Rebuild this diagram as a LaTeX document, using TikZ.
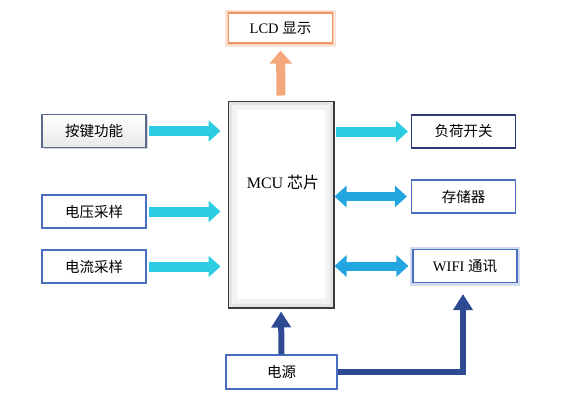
\documentclass[tikz,border=0pt]{standalone}
\usepackage{fontspec}
\setmainfont{Liberation Serif}
\newfontfamily\cjk{Noto Sans CJK SC}
\usetikzlibrary{positioning,arrows.meta,shadows}

\definecolor{boxblue}{RGB}{74,111,194}
\definecolor{loadnavy}{RGB}{46,58,120}
\definecolor{keygray}{RGB}{90,105,140}
\definecolor{mcugray}{RGB}{60,60,60}
\definecolor{lcdorange}{RGB}{240,150,100}
\definecolor{arrcyan}{RGB}{44,204,226}
\definecolor{arrblue}{RGB}{35,165,223}
\definecolor{arrorange}{RGB}{243,167,122}
\definecolor{pwrblue}{RGB}{46,74,147}

\begin{document}
\begin{tikzpicture}[x=1pt, y=-1pt,
  box/.style={draw=boxblue, line width=1.2pt, fill=white, minimum width=104pt,
    minimum height=33pt, inner sep=0pt, font=\fontsize{14.5}{17}\selectfont},
  keybox/.style={box, draw=keygray, top color=white, bottom color=gray!18,
    drop shadow={opacity=0.35, shadow xshift=1.5pt, shadow yshift=-1.5pt}},
  loadbox/.style={box, draw=loadnavy},
  lcdbox/.style={box, draw=lcdorange, minimum height=30pt,
    preaction={draw=lcdorange!25, line width=7pt},
    preaction={draw=lcdorange!45, line width=3.5pt}},
  wifibox/.style={box, preaction={draw=boxblue!25, line width=6pt}},
  mcubox/.style={draw=mcugray, line width=3pt, fill=white, minimum width=104pt,
    minimum height=205pt, inner sep=0pt},
  fat/.style={line width=10pt, arrcyan, -{Triangle[width=21pt,length=12pt]}},
  fatboth/.style={line width=9pt, arrblue,
    {Triangle[width=21pt,length=12pt]}-{Triangle[width=21pt,length=12pt]}},
  fatup/.style={line width=9pt, arrorange, -{Triangle[width=22pt,length=13pt]}},
  pwrline/.style={line width=6pt, pwrblue, -{Triangle[width=19pt,length=16pt]}}
]
  \useasboundingbox (0,0) rectangle (578,402);

  % blocks
  \node[lcdbox]  (lcd)  at (280.5,28)  {LCD {\cjk 显示}};
  \node[mcubox]  (mcu)  at (281,204.5) {};
  \draw[gray!10, line width=8pt]
    ([shift={(5.5pt,-5.5pt)}]mcu.north west) rectangle ([shift={(-5.5pt,5.5pt)}]mcu.south east);
  \draw[gray!22, line width=3pt]
    ([shift={(3pt,-3pt)}]mcu.north west) rectangle ([shift={(-3pt,3pt)}]mcu.south east);
  \node[font=\fontsize{16}{19}\selectfont] (mcutext) at (283,182) {MCU {\cjk 芯片}};

  \node[keybox]  (key)  at (94,131)    {\cjk 按键功能};
  \node[box]     (volt) at (94,211.5)  {\cjk 电压采样};
  \node[box]     (curr) at (94,266.5)  {\cjk 电流采样};

  \node[loadbox] (load) at (463.5,131.5) {\cjk 负荷开关};
  \node[box]     (mem)  at (463.5,196.5) {\cjk 存储器};
  \node[wifibox] (wifi) at (465,266)     {WIFI {\cjk 通讯}};

  \node[box, minimum width=111pt, minimum height=34pt] (pwr) at (281.5,372) {\cjk 电源};

  % inputs
  \draw[fat, shorten <=2pt, shorten >=7pt] (key.east)  -- (key.east -| mcu.west);
  \draw[fat, shorten <=2pt, shorten >=7pt] (volt.east) -- (volt.east -| mcu.west);
  \draw[fat, shorten <=2pt, shorten >=7pt] (curr.east) -- (curr.east -| mcu.west);

  % outputs
  \draw[fat, shorten <=1pt, shorten >=3pt] (load.west -| mcu.east) -- (load.west);
  \draw[fatboth, shorten >=4pt] (mem.west -| mcu.east)  -- (mem.west);
  \draw[fatboth, shorten >=4pt] (wifi.west -| mcu.east) -- (wifi.west);
  \draw[fatup, shorten <=5pt, shorten >=7pt] (mcu.north) -- (lcd.south);

  % power
  \draw[pwrline, shorten >=3pt] (pwr.north) -- (mcu.south);
  \draw[pwrline, shorten >=11pt] (pwr.east) -| ([xshift=-2pt]wifi.south);
\end{tikzpicture}
\end{document}
